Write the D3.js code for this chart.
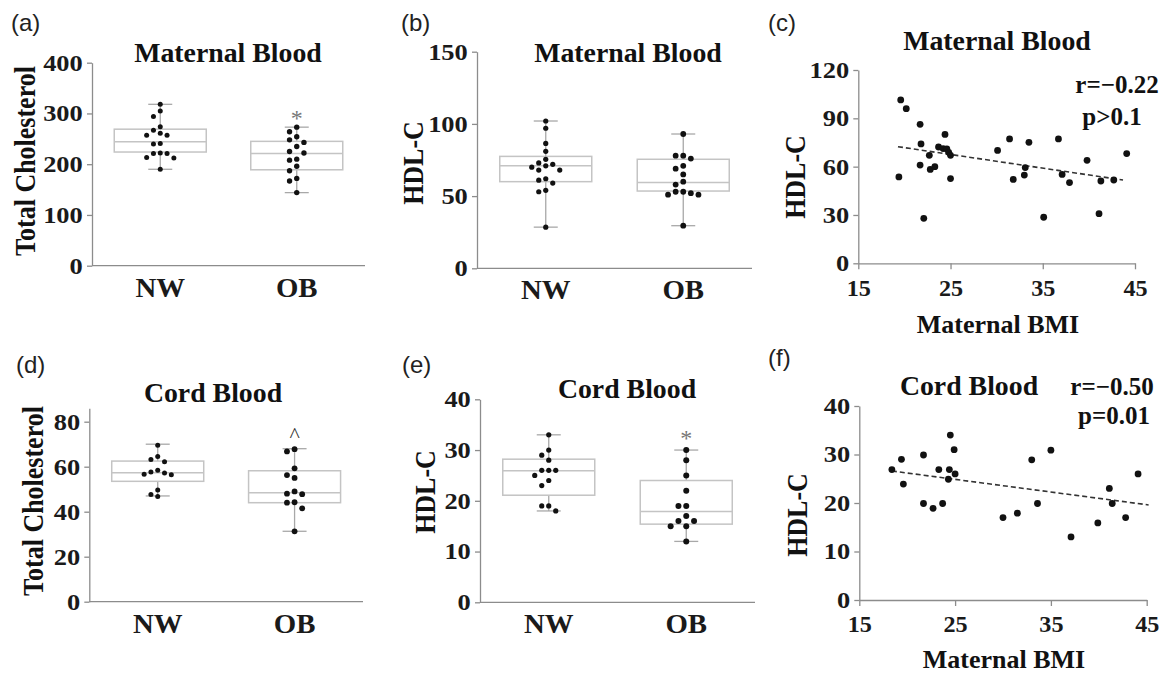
<!DOCTYPE html>
<html><head><meta charset="utf-8">
<script src="https://cdn.jsdelivr.net/npm/d3@7"></script>
<style>
body{margin:0;background:#fff;}
svg{display:block;}
</style>
</head><body>
<svg id="chart" width="1176" height="675"></svg>
<script>
// ---------------- DATA ----------------
const groups = ["NW", "OB"];

// (a) Maternal blood – total cholesterol
const aNW = [318,305,294,274,267,261,257,257,241,240,222,221,221,213,212,190];
const aOB = [273,264,254,248,243,235,225,222,210,208,196,187,172,167,144];
const aBoxNW = [190,224,244,269,318];   // min, q1, median, q3, max
const aBoxOB = [144,189,221,245,273];
const aTicks = [0,100,200,300,400];

// (b) Maternal blood – HDL-C
const bNW = [102,97,86.5,81,75.5,73,72,71,70,68,68,62,61,59,54,53,28.5];
const bOB = [93,78,78,76,71,69,65,60,58,53,53,52,51,51,29.5];
const bBoxNW = [28.5,60,71,77.5,102];
const bBoxOB = [29.5,53.5,59.5,75.5,93];
const bTicks = [0,50,100,150];

// (c) Maternal BMI vs maternal HDL-C
const cBMI = [19.6,20.2,19.4,21.7,21.8,21.7,22.1,22.7,22.8,23.3,23.7,24.2,24.4,24.6,24.8,25,25,30.1,31.4,31.8,33.1,33,33.5,35.1,36.7,37.1,37.9,39.8,41.1,41.3,42.7,44.1];
const cHDL = [101.4,96,53.6,86.3,74.1,61,27.9,67,58.3,60,72.2,71.2,80,71,68.9,67,52.6,70.1,77.2,52.1,59.4,54.8,75.1,28.6,77.2,55.2,50.1,63.9,30.8,51.1,51.7,68.1];
const cTrendBMI = [19.3, 43.7];
const cTrendHDL = [72.4, 51.7];
const cYTicks = [0,30,60,90,120];
const bmiTicks = [15,25,35,45];

// (d) Cord blood – total cholesterol
const dNW = [69.5,64.5,63.2,62.2,58.4,57.6,57.2,56.7,56.4,49.6,47.6,46.8];
const dOB = [67.8,66.8,59.3,56.3,55,49,48,47.8,44.2,44,41.5,31.3];
const dBoxNW = [47,53.5,57.3,62.5,70];
const dBoxOB = [31.3,44,48.4,58.2,68];
const dTicks = [0,20,40,60,80];

// (e) Cord blood – HDL-C
const eNW = [33,30,29,28,26,26,26,25,24,23,19,19,18];
const eOB = [30,28,25,22,19,19,17,16,16,15,15,12];
const eBoxNW = [18,21.1,25.9,28.2,33];
const eBoxOB = [12,15.4,17.9,24,30];
const eTicks = [0,10,20,30,40];

// (f) Maternal BMI vs cord HDL-C
const fBMI = [18.4,19.4,19.6,21.7,21.7,22.7,23.3,23.7,24.4,24.3,24.5,24.9,25,30,31.5,33,33.6,35,37.1,39.9,41.1,41.4,42.8,44.1];
const fHDL = [26.9,29,23.9,29.9,19.9,18.9,26.9,19.9,26.9,24.9,34,31,26,17,17.9,28.9,19.9,30.9,13,15.9,23,19.9,17,26];
const fTrendBMI = [18.4, 45.2];
const fTrendHDL = [26.6, 19.6];
const fYTicks = [0,10,20,30,40];

// ---------------- DRAWING ----------------
const SERIF = "'Liberation Serif','Times New Roman',serif";
const SANS = "'Liberation Sans',Arial,sans-serif";
const AXIS = "#8c8c8c";
const svg = d3.select("#chart");

function label(x, y, s, o) {
  o = o || {};
  const g = svg.append("g").attr("transform",
    `translate(${x},${y}) scale(${o.sx || 1},1)` + (o.rot ? ` rotate(${o.rot})` : ""));
  g.append("text")
    .attr("text-anchor", o.anchor || "middle")
    .attr("font-family", o.family || SERIF)
    .attr("font-weight", o.weight || "bold")
    .attr("font-size", o.size || 26)
    .attr("fill", o.fill || "#111")
    .attr("dy", o.dy || 0)
    .text(s);
}

function styleAxis(g, fs, sx) {
  g.attr("font-family", SERIF).attr("font-weight", "bold").attr("font-size", fs);
  g.select(".domain").attr("stroke", AXIS).attr("stroke-width", 1.3);
  g.selectAll(".tick line").attr("stroke", AXIS).attr("stroke-width", 1.3);
  g.selectAll(".tick text").attr("fill", "#1a1a1a");
  if (sx) g.selectAll(".tick text").attr("transform", `scale(${sx},1)`);
}

function swarm(vals, y, r, gap) {
  const order = vals.map((v, i) => i).sort((a, b) => vals[b] - vals[a]);
  const placed = [], out = new Array(vals.length);
  order.forEach(i => {
    const py = y(vals[i]);
    for (let k = 0; k < 60; k++) {
      const off = (k === 0 ? 0 : (k % 2 ? -1 : 1) * Math.ceil(k / 2)) * gap;
      if (placed.every(p => Math.hypot(p[0] - off, p[1] - py) >= 2 * r + 1.2)) {
        placed.push([off, py]); out[i] = off; break;
      }
    }
  });
  return out;
}

function boxPanel(c) {
  const y = d3.scaleLinear().domain(c.domain).range([c.bottom, c.top]);
  const x = d3.scaleBand().domain(groups).range([c.left, c.right]).paddingInner(0.5).paddingOuter(0.25);
  const gy = svg.append("g").attr("transform", `translate(${c.left},0)`)
    .call(d3.axisLeft(y).tickValues(c.ticks).tickSize(5).tickSizeOuter(0).tickPadding(3));
  styleAxis(gy, 23, 1.15);
  const gx = svg.append("g").attr("transform", `translate(0,${c.bottom})`)
    .call(d3.axisBottom(x).tickSize(0).tickSizeOuter(0).tickPadding(11));
  styleAxis(gx, 28, 1.03);
  gx.select(".domain").attr("d", `M${c.left},0H${c.right}`);

  const data = { NW: [c.nw, c.boxNW], OB: [c.ob, c.boxOB] };
  groups.forEach(gname => {
    const [pts, st] = data[gname];
    const cx = x(gname) + x.bandwidth() / 2;
    const bw = 92, cap = 24;
    const g = svg.append("g");
    // whiskers
    g.append("line").attr("x1", cx).attr("x2", cx).attr("y1", y(st[4])).attr("y2", y(st[3]))
      .attr("stroke", "#a8a8a8").attr("stroke-width", 1.3);
    g.append("line").attr("x1", cx).attr("x2", cx).attr("y1", y(st[1])).attr("y2", y(st[0]))
      .attr("stroke", "#a8a8a8").attr("stroke-width", 1.3);
    [st[0], st[4]].forEach(v => g.append("line").attr("x1", cx - cap / 2).attr("x2", cx + cap / 2)
      .attr("y1", y(v)).attr("y2", y(v)).attr("stroke", "#a8a8a8").attr("stroke-width", 1.3));
    // box
    g.append("rect").attr("x", cx - bw / 2).attr("width", bw).attr("y", y(st[3]))
      .attr("height", y(st[1]) - y(st[3])).attr("fill", "none").attr("stroke", "#c4c4c4").attr("stroke-width", 1.5);
    g.append("line").attr("x1", cx - bw / 2).attr("x2", cx + bw / 2).attr("y1", y(st[2])).attr("y2", y(st[2]))
      .attr("stroke", "#c4c4c4").attr("stroke-width", 1.5);
    // dots
    const r = gname === "OB" ? (c.rOB || 2.7) : (c.rNW || 2.5);
    const offs = swarm(pts, y, r, 2 * r + 1.8);
    g.selectAll("circle").data(pts).join("circle")
      .attr("cx", (d, i) => cx + offs[i]).attr("cy", d => y(d)).attr("r", r).attr("fill", "#111");
    if (c.mark && c.mark[gname]) {
      const m = c.mark[gname];
      label(cx, y(st[4]) + m.dy, m.s, { size: m.size, fill: m.fill, weight: "normal", family: m.family || SERIF });
    }
  });

  label(c.titleX, c.titleY, c.title, { size: 27, sx: 1.03 });
  label(c.yTitleX, c.yTitleY, c.yTitle, { size: 26, rot: -90, dy: "0.35em", sx: 1.15 });
  label(c.letterX, c.letterY, c.letter, { family: SANS, weight: "normal", size: 24, anchor: "start", fill: "#222" });
}

function scatterPanel(c) {
  const x = d3.scaleLinear().domain([15, 45]).range([c.left, c.right]);
  const y = d3.scaleLinear().domain(c.yDomain).range([c.bottom, c.top]);
  const gy = svg.append("g").attr("transform", `translate(${c.left},0)`)
    .call(d3.axisLeft(y).tickValues(c.yTicks).tickSize(5).tickSizeOuter(0).tickPadding(3));
  styleAxis(gy, 23, 1.15);
  const gx = svg.append("g").attr("transform", `translate(0,${c.bottom})`)
    .call(d3.axisBottom(x).tickValues(bmiTicks).tickSize(6).tickSizeOuter(0).tickPadding(10));
  styleAxis(gx, 23, 1.05);

  const line = d3.line().x(d => x(d[0])).y(d => y(d[1]));
  svg.append("path").attr("d", line(d3.zip(c.trendX, c.trendY)))
    .attr("stroke", "#333").attr("stroke-width", 1.6).attr("stroke-dasharray", "5,3").attr("fill", "none");

  svg.append("g").selectAll("circle").data(d3.zip(c.bmi, c.hdl)).join("circle")
    .attr("cx", d => x(d[0])).attr("cy", d => y(d[1])).attr("r", 3.4).attr("fill", "#111");

  label(c.titleX, c.titleY, c.title, { size: 27, sx: 1.03 });
  label(c.yTitleX, c.yTitleY, "HDL-C", { size: 26, rot: -90, dy: "0.35em", sx: 1.15 });
  label(c.xTitleX, c.xTitleY, "Maternal BMI", { size: 26 });
  label(c.rX, c.rY, c.rText, { size: 25 });
  label(c.pX, c.pY, c.pText, { size: 25 });
  label(c.letterX, c.letterY, c.letter, { family: SANS, weight: "normal", size: 24, anchor: "start", fill: "#222" });
}

boxPanel({
  left: 92, right: 365, bottom: 265.7, top: 62.7, domain: [0, 400], ticks: aTicks,
  nw: aNW, ob: aOB, boxNW: aBoxNW, boxOB: aBoxOB,
  mark: { OB: { s: "*", dy: -1, size: 24, fill: "#777" } },
  title: "Maternal Blood", titleX: 228, titleY: 62,
  yTitle: "Total Cholesterol", yTitleX: 25, yTitleY: 161,
  letter: "(a)", letterX: 11, letterY: 31
});
boxPanel({
  left: 477, right: 752, bottom: 268.3, top: 51.7, domain: [0, 150], ticks: bTicks,
  nw: bNW, ob: bOB, boxNW: bBoxNW, boxOB: bBoxOB, rNW: 2.6, rOB: 2.9,
  title: "Maternal Blood", titleX: 628, titleY: 62,
  yTitle: "HDL-C", yTitleX: 413, yTitleY: 163,
  letter: "(b)", letterX: 401, letterY: 31
});
scatterPanel({
  left: 858.3, right: 1135, bottom: 263.3, top: 70, yDomain: [0, 120], yTicks: cYTicks,
  bmi: cBMI, hdl: cHDL, trendX: cTrendBMI, trendY: cTrendHDL,
  title: "Maternal Blood", titleX: 997, titleY: 50,
  yTitleX: 795, yTitleY: 177, xTitleX: 998, xTitleY: 333,
  rText: "r=\u22120.22", rX: 1117, rY: 93, pText: "p>0.1", pX: 1112, pY: 125,
  letter: "(c)", letterX: 768, letterY: 31
});
boxPanel({
  left: 89.3, right: 363, bottom: 601.7, top: 408.2, domain: [0, 86], ticks: dTicks,
  nw: dNW, ob: dOB, boxNW: dBoxNW, boxOB: dBoxOB, rNW: 2.5, rOB: 2.9,
  mark: { OB: { s: "^", dy: -7, size: 22, fill: "#333" } },
  title: "Cord Blood", titleX: 213, titleY: 402,
  yTitle: "Total Cholesterol", yTitleX: 33, yTitleY: 501,
  letter: "(d)", letterX: 16, letterY: 373
});
boxPanel({
  left: 480, right: 755, bottom: 602.3, top: 399.3, domain: [0, 40], ticks: eTicks,
  nw: eNW, ob: eOB, boxNW: eBoxNW, boxOB: eBoxOB, rNW: 2.6, rOB: 3.0,
  mark: { OB: { s: "*", dy: -4, size: 24, fill: "#777" } },
  title: "Cord Blood", titleX: 627, titleY: 398,
  yTitle: "HDL-C", yTitleX: 425, yTitleY: 492,
  letter: "(e)", letterX: 402, letterY: 373
});
scatterPanel({
  left: 859.3, right: 1146.7, bottom: 600, top: 406, yDomain: [0, 40], yTicks: fYTicks,
  bmi: fBMI, hdl: fHDL, trendX: fTrendBMI, trendY: fTrendHDL,
  title: "Cord Blood", titleX: 969, titleY: 395,
  yTitleX: 797, yTitleY: 515, xTitleX: 1004, xTitleY: 668,
  rText: "r=\u22120.50", rX: 1112, rY: 395, pText: "p=0.01", pX: 1114, pY: 424,
  letter: "(f)", letterX: 768, letterY: 366
});
</script>
</body></html>
